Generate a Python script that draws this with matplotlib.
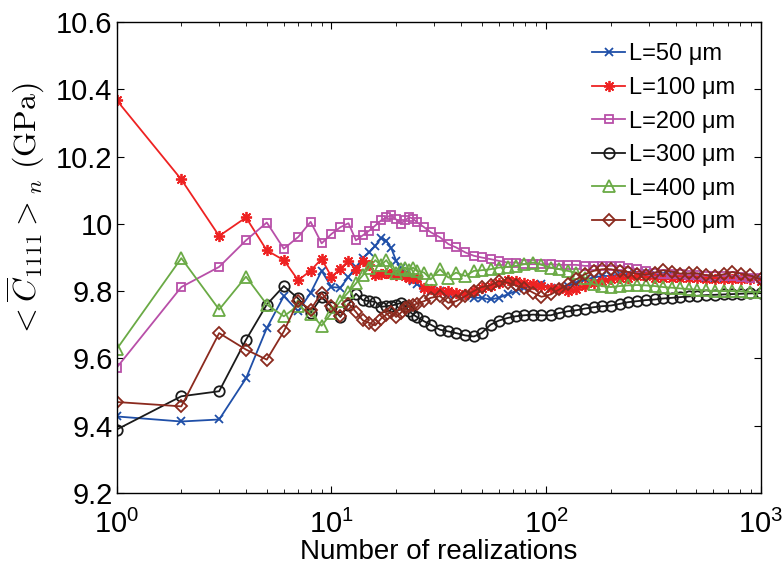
import matplotlib
matplotlib.use("Agg")
import matplotlib.pyplot as plt
from matplotlib.ticker import FuncFormatter, FixedLocator

plt.rcParams['font.family'] = ['Liberation Sans', 'DejaVu Sans']
plt.rcParams['mathtext.fontset'] = 'cm'

n_real = list(range(1, 26)) + [27, 29, 32, 35, 38, 42, 46, 50, 55, 60, 66, 72, 79, 87, 95,
                               105, 115, 126, 138, 151, 166, 182, 200, 220, 240, 265, 290,
                               320, 350, 385, 420, 460, 505, 555, 610, 670, 735, 805, 885, 1000]

c_L50 = [9.427, 9.412, 9.418, 9.540, 9.690, 9.785, 9.740, 9.795, 9.860, 9.812, 9.810, 9.842,
         9.871, 9.898, 9.915, 9.935, 9.957, 9.950, 9.927, 9.890, 9.868, 9.850, 9.840, 9.830, 9.820,
         9.81, 9.80, 9.80, 9.79, 9.79, 9.785, 9.78, 9.78, 9.775, 9.78, 9.79, 9.80, 9.81, 9.815, 9.82,
         9.81, 9.805, 9.815, 9.825, 9.835, 9.84, 9.845, 9.845, 9.85, 9.85, 9.855, 9.855, 9.85, 9.85,
         9.85, 9.845, 9.845, 9.845, 9.84, 9.84, 9.84, 9.84, 9.84, 9.84, 9.835]

c_L100 = [10.368, 10.132, 9.964, 10.019, 9.921, 9.892, 9.832, 9.861, 9.896, 9.842, 9.867, 9.890,
          9.862, 9.890, 9.877, 9.848, 9.850, 9.855, 9.85, 9.848, 9.85, 9.845, 9.84, 9.84, 9.838,
          9.81, 9.805, 9.80, 9.80, 9.795, 9.79, 9.80, 9.81, 9.815, 9.825, 9.832, 9.83, 9.825, 9.82,
          9.815, 9.81, 9.805, 9.80, 9.805, 9.815, 9.825, 9.83, 9.835, 9.84, 9.84, 9.845, 9.845, 9.84,
          9.84, 9.84, 9.84, 9.84, 9.84, 9.835, 9.835, 9.835, 9.835, 9.835, 9.835, 9.83]

c_L200 = [9.572, 9.812, 9.872, 9.951, 10.004, 9.926, 9.961, 10.006, 9.942, 9.970, 9.990, 10.002,
          9.951, 9.966, 9.980, 9.995, 10.010, 10.019, 10.026, 10.013, 10.001, 10.01, 10.02, 10.015,
          10.005, 9.99, 9.975, 9.96, 9.94, 9.93, 9.915, 9.905, 9.90, 9.895, 9.89, 9.885, 9.885, 9.88,
          9.88, 9.88, 9.88, 9.878, 9.878, 9.878, 9.875, 9.875, 9.875, 9.875, 9.875, 9.87, 9.865, 9.86,
          9.855, 9.85, 9.85, 9.85, 9.848, 9.848, 9.845, 9.845, 9.845, 9.845, 9.843, 9.84, 9.838]

c_L300 = [9.388, 9.487, 9.502, 9.655, 9.760, 9.815, 9.778, 9.735, 9.782, 9.753, 9.723, 9.76,
          9.792, 9.773, 9.77, 9.768, 9.753, 9.755, 9.757, 9.76, 9.765, 9.755, 9.74, 9.73, 9.723,
          9.71, 9.70, 9.685, 9.68, 9.675, 9.668, 9.665, 9.675, 9.70, 9.712, 9.72, 9.725, 9.728, 9.73,
          9.728, 9.728, 9.735, 9.74, 9.743, 9.748, 9.752, 9.755, 9.757, 9.762, 9.767, 9.77, 9.773,
          9.775, 9.778, 9.78, 9.782, 9.784, 9.786, 9.788, 9.789, 9.79, 9.791, 9.792, 9.793, 9.794]

c_L400 = [9.627, 9.898, 9.745, 9.843, 9.760, 9.725, 9.757, 9.733, 9.697, 9.735, 9.77, 9.797,
          9.823, 9.847, 9.87, 9.892, 9.877, 9.892, 9.87, 9.853, 9.865, 9.87, 9.862, 9.87, 9.86,
          9.855, 9.835, 9.865, 9.84, 9.855, 9.845, 9.86, 9.862, 9.865, 9.87, 9.872, 9.875, 9.88,
          9.885, 9.878, 9.87, 9.865, 9.86, 9.855, 9.84, 9.82, 9.815, 9.812, 9.815, 9.817, 9.818,
          9.817, 9.815, 9.812, 9.81, 9.808, 9.806, 9.804, 9.802, 9.80, 9.80, 9.80, 9.799, 9.798, 9.797]

c_L500 = [9.470, 9.457, 9.675, 9.626, 9.596, 9.680, 9.770, 9.745, 9.795, 9.755, 9.725, 9.763,
          9.738, 9.713, 9.705, 9.698, 9.718, 9.73, 9.738, 9.723, 9.735, 9.749, 9.755, 9.758, 9.763,
          9.77, 9.78, 9.785, 9.765, 9.77, 9.785, 9.80, 9.812, 9.817, 9.83, 9.825, 9.817, 9.81, 9.795,
          9.783, 9.79, 9.805, 9.82, 9.835, 9.85, 9.86, 9.865, 9.865, 9.86, 9.857, 9.852, 9.848, 9.855,
          9.862, 9.858, 9.852, 9.853, 9.853, 9.847, 9.845, 9.85, 9.857, 9.852, 9.847, 9.835]

labels = ['L=50 μm', 'L=100 μm', 'L=200 μm', 'L=300 μm', 'L=400 μm', 'L=500 μm']
series = [c_L50, c_L100, c_L200, c_L300, c_L400, c_L500]
colors = ['#1f4fa8', '#ee2222', '#b84fa8', '#1a1a1a', '#6aaa45', '#8b2a1e']
markers = ['x', (8, 2, 0), 's', 'o', '^', 'D']
msizes = [6, 8, 6, 7.5, 8.5, 6.5]

yticks = [9.2, 9.4, 9.6, 9.8, 10.0, 10.2, 10.4, 10.6]

fig = plt.figure(figsize=(7.83, 5.69), dpi=100)
ax = fig.add_axes([0.149, 0.134, 0.823, 0.827])

for vals, lab, c, m, ms in zip(series, labels, colors, markers, msizes):
    ax.plot(n_real, vals, color=c, marker=m, markersize=ms, markerfacecolor='none',
            markeredgecolor=c, markeredgewidth=1.3, linewidth=1.3, label=lab)

ax.set_xscale('log')
ax.set_xlim(1, 1000)
ax.set_ylim(9.2, 10.6)
ax.yaxis.set_major_locator(FixedLocator(yticks))
ax.yaxis.set_major_formatter(FuncFormatter(lambda v, p: f'{v:g}'))
ax.tick_params(axis='both', which='both', direction='in', top=True, right=True, labelsize=21)
ax.tick_params(axis='both', which='major', length=5)
ax.tick_params(axis='x', which='minor', length=3)
ax.tick_params(axis='y', which='major', pad=3)
ax.tick_params(axis='x', which='major', pad=12)
for sp in ax.spines.values():
    sp.set_linewidth(1.0)

ax.set_xlabel('Number of realizations', fontsize=20, labelpad=0)
ax.set_ylabel(r'$<\overline{C}_{1111}>_n\ \mathrm{(GPa)}$', fontsize=23)
ax.yaxis.set_label_coords(-0.108, 0.60)

leg = ax.legend(loc='upper right', frameon=False, fontsize=17, handlelength=1.4,
                handletextpad=0.15, labelspacing=0.49, borderaxespad=0.3,
                bbox_to_anchor=(0.985, 0.99))

fig.savefig('out.png', dpi=100)
